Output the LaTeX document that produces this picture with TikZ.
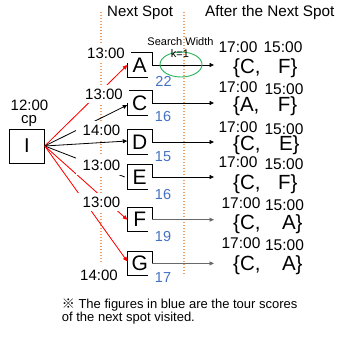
\documentclass[tikz,border=0pt]{standalone}
\usepackage{fontspec}
\setmainfont{Liberation Sans}
\newfontfamily\cjkfont{Noto Sans CJK JP}
\usetikzlibrary{arrows.meta,shapes.geometric}
\definecolor{dotorange}{RGB}{240,160,100}
\definecolor{scoreblue}{RGB}{68,114,196}
\definecolor{ellgreen}{RGB}{40,180,90}
\definecolor{connGray}{RGB}{105,105,105}
\newcommand\fsz[1]{\fontsize{#1}{#1}\selectfont}
\begin{document}
\begin{tikzpicture}[x=1pt,y=-1pt,
  tl/.style={fill=white,inner xsep=6.5pt,inner ysep=4pt,font=\fsz{15}},
  spot/.style={minimum width=24.5pt,minimum height=24pt,inner sep=0pt,font=\fsz{21}},
  score/.style={text=scoreblue,inner sep=0pt,font=\fsz{14.5}},
  rt/.style={inner sep=0pt,font=\fsz{15.5}},
  setlbl/.style={inner sep=0pt,anchor=west,font=\fsz{20.5}},
  conn/.style={line width=0.8pt,-{Triangle[length=4.5pt,width=4pt]}},
  redc/.style={conn,draw=red,fill=red},
  dotl/.style={draw=dotorange,line width=1.3pt,dash pattern=on 1.3pt off 1.7pt},
  boxl/.style={line width=0.9pt},
]
\useasboundingbox (0,0) rectangle (337,337);
\fill[white] (0,0) rectangle (337,337);

% dotted guide lines
\coordinate (d1t) at (101,12); \coordinate (d1b) at (101,263);
\coordinate (d2t) at (184,12); \coordinate (d2b) at (184,275);
\draw[dotl] (d1t) -- (d1b);
\draw[dotl] (d2t) -- (d2b);

% start node
\node[draw,line width=0.9pt,minimum width=35pt,minimum height=34pt,inner sep=0pt,font=\fsz{20}] (I) at (26.8,146) {I};
\node[anchor=base,inner sep=0pt,font=\fsz{15}] (tI) at (29.5,110.7) {12:00};
\node[anchor=base,inner sep=0pt,font=\fsz{15}] (cp) at (29,123.5) {cp};

% spot nodes
\node[spot] (A) at (139.75,65) {A};
\node[spot] (C) at (139.75,103) {C};
\node[spot] (D) at (139.75,142) {D};
\node[spot] (E) at (139.75,177) {E};
\node[spot] (F) at (139.75,219.7) {F};
\node[spot] (G) at (139.75,263.4) {G};
\foreach \n in {A,C,D,E,F,G}{
  \draw[boxl] (\n.east) -- (\n.north east) -- (\n.north west) -- (\n.south west) -- ([xshift=-4.5pt]\n.south east);
}

% connectors from I
\draw[redc] (I.east) -- (A.west);
\draw[conn] (I.east) -- ([yshift=-2pt]C.west);
\draw[conn] (I.east) -- ([yshift=1pt]D.west);
\draw[line width=0.8pt] (I.east) -- ([xshift=-2.5pt]E.west);
\draw[redc] (I.east) -- (F.west);
\draw[redc] (I.east) -- ([yshift=2pt]G.west);

% connectors to the right
\coordinate (tipx) at (214,0);
\foreach \n in {A,C,D,E}{
  \draw[conn] (\n.east) -- (\n.east -| tipx);
}
\foreach \n in {F,G}{
  \draw[conn,draw=connGray,fill=connGray] (\n.east) -- (\n.east -| tipx);
}

% time labels (white boxes cover lines)
\node[tl] (tmA) at (106,53.3) {13:00};
\node[tl] (tmC) at (104,94) {13:00};
\node[tl] (tmD) at (101.5,130) {14:00};
\node[tl] (tmE) at (101.5,165.5) {13:00};
\node[tl] (tmF) at (101.5,202) {13:00};
\node[tl] (tmG) at (99,275.5) {14:00};

% scores
\node[score] (sA) at (163.5,81.5) {22};
\node[score] (sC) at (163,116.7) {16};
\node[score] (sD) at (163,156.7) {15};
\node[score] (sE) at (163,195) {16};
\node[score] (sF) at (163,236.7) {19};
\node[score] (sG) at (163,278) {17};

% titles
\node[anchor=base west,inner sep=0pt,font=\fsz{15}] (hNext) at (107,16.7) {Next Spot};
\node[anchor=base west,inner sep=0pt,font=\fsz{15.3}] (hAfter) at (205,16.7) {After the Next Spot};

% search width
\node[ellipse,draw=ellgreen,line width=0.9pt,minimum width=42pt,minimum height=25pt,inner sep=0pt] (kwin) at (181,64.5) {};
\node[anchor=base,inner sep=0pt,font=\fsz{11}] (sw) at (180.5,46) {Search Width};
\node[anchor=base,inner sep=0pt,font=\fsz{11}] (kk) at (180,57) {k=1};

% right-side times
\node[rt] (rA1) at (238,47.5) {17:00};  \node[rt] (rA2) at (283,47.5) {15:00};
\node[rt] (rC1) at (238,87.5) {17:00};  \node[rt] (rC2) at (284,89.5) {15:00};
\node[rt] (rD1) at (238,127.5) {17:00}; \node[rt] (rD2) at (284,129.5) {15:00};
\node[rt] (rE1) at (238,162.5) {17:00}; \node[rt] (rE2) at (284,164.5) {15:00};
\node[rt] (rF1) at (241,203.5) {17:00}; \node[rt] (rF2) at (284.5,205.5) {15:00};
\node[rt] (rG1) at (241,243.5) {17:00}; \node[rt] (rG2) at (284.5,245.5) {15:00};

% next-next sets
\node[setlbl] (nA) at (233,68) {\{C,\hspace{17.5pt}F\}};
\node[setlbl] (nC) at (233,106.5) {\{A,\hspace{18.5pt}F\}};
\node[setlbl] (nD) at (233,145.5) {\{C,\hspace{18.5pt}E\}};
\node[setlbl] (nE) at (233,184.5) {\{C,\hspace{17.5pt}F\}};
\node[setlbl] (nF) at (233,224.5) {\{C,\hspace{21.5pt}A\}};
\node[setlbl] (nG) at (233,265.5) {\{C,\hspace{21.5pt}A\}};

% footnote
\node[anchor=base west,inner sep=0pt,font=\fsz{13}] (note1) at (61.7,308) {{\cjkfont ※} The figures in blue are the tour scores};
\node[anchor=base west,inner sep=0pt,font=\fsz{13}] (note2) at (61.7,321.4) {of the next spot visited.};
\end{tikzpicture}
\end{document}
